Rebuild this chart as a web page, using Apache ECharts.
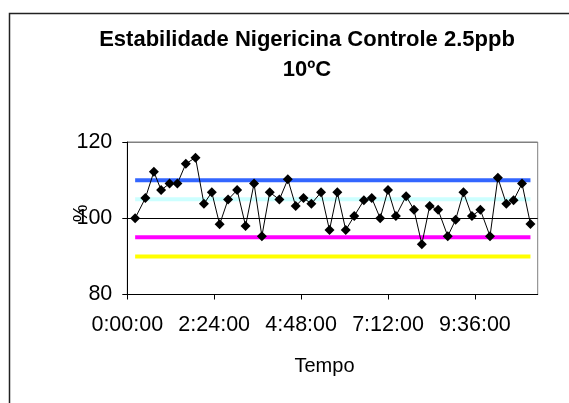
<!DOCTYPE html>
<html>
<head>
<meta charset="utf-8">
<script src="https://cdn.jsdelivr.net/npm/echarts@6/dist/echarts.min.js"></script>
<style>html,body{margin:0;padding:0;background:#fff}#c{width:569px;height:403px}</style>
</head>
<body>
<div id="c"></div>
<script>
// time in minutes since start
const times = [13,30,44,56,70,83,97,113,127,140,153,167,182,196,210,223,236,252,266,279,292,305,321,335,348,362,376,392,405,419,432,445,462,475,488,501,515,531,544,557,571,585,601,614,628,640,654,668];
const values = [100,105.3,112.2,107.4,109.1,109.1,114.3,115.9,103.8,106.8,98.4,104.9,107.4,98.0,109.1,95.3,106.8,104.9,110.2,103.2,105.3,103.8,106.8,96.9,106.8,96.9,100.6,104.7,105.3,100.0,107.4,100.6,105.8,102.2,93.2,103.2,102.2,95.3,99.6,106.8,100.6,102.2,95.3,110.6,103.8,104.7,109.1,98.5];
const limitX = [13, 668];
const limitBlue = 110, limitCyan = 105, limitMagenta = 95, limitYellow = 90;
const xTicks = [0,144,288,432,576];
const yTicks = [80,100,120];
const title1 = 'Estabilidade Nigericina Controle 2.5ppb';
const title2 = '10ºC';

function fmt(m){const h=Math.floor(m/60);const mm=Math.round(m%60);return h+':'+String(mm).padStart(2,'0')+':00';}
const font='"Liberation Sans", Arial, sans-serif';
function hline(v,color){return {type:'line',data:limitX.map(x=>[x,v]),symbol:'none',lineStyle:{color:color,width:4},z:2,silent:true};}

const chart = echarts.init(document.getElementById('c'),null,{renderer:'canvas'});
chart.setOption({
  animation:false,
  textStyle:{fontFamily:font},
  title:{text:title1+'\n'+title2,left:302,top:20,textAlign:'center',textStyle:{fontFamily:font,fontWeight:'bold',fontSize:22,lineHeight:30,color:'#000'}},
  graphic:[{type:'rect',shape:{x:9.5,y:13.5,width:700,height:500},style:{fill:'none',stroke:'#222',lineWidth:1.5},z:-1}],
  grid:{left:127.3,right:31.3,top:142,bottom:108.5,show:true,borderColor:'#808080',borderWidth:1},
  xAxis:{type:'value',min:0,max:680,interval:144,
    name:'Tempo',nameLocation:'middle',nameGap:62,nameMoveOverlap:false,nameTextStyle:{fontFamily:font,fontSize:20,color:'#000',padding:[0,16,0,0]},
    axisLine:{lineStyle:{color:'#000',width:1}},axisTick:{show:true,length:5,lineStyle:{color:'#000'}},
    axisLabel:{formatter:v=>xTicks.includes(v)?fmt(v):'',showMaxLabel:false,fontSize:21.5,color:'#000',margin:20,fontFamily:font},
    splitLine:{show:false}},
  yAxis:{type:'value',min:80,max:120,interval:20,
    name:'%',nameLocation:'middle',nameGap:36,nameRotate:90,nameMoveOverlap:false,nameTextStyle:{fontFamily:font,fontSize:20,color:'#000',padding:[0,0,0,10]},
    axisLine:{show:true,lineStyle:{color:'#000',width:1}},axisTick:{show:true,length:5,lineStyle:{color:'#000'}},
    axisLabel:{formatter:v=>yTicks.includes(v)?String(v):'',fontSize:21.5,color:'#000',margin:15,fontFamily:font},
    splitLine:{show:true,lineStyle:{color:['#000','#000','#808080'],width:1}}},
  series:[
    hline(limitBlue,'#3366FF'),
    hline(limitCyan,'#CCFFFF'),
    hline(limitMagenta,'#FF00FF'),
    hline(limitYellow,'#FFFF00'),
    {type:'line',data:times.map((t,i)=>[t,values[i]]),symbol:'diamond',symbolSize:10,
     itemStyle:{color:'#000'},lineStyle:{color:'#000',width:1},z:5}
  ]
});
</script>
</body>
</html>
